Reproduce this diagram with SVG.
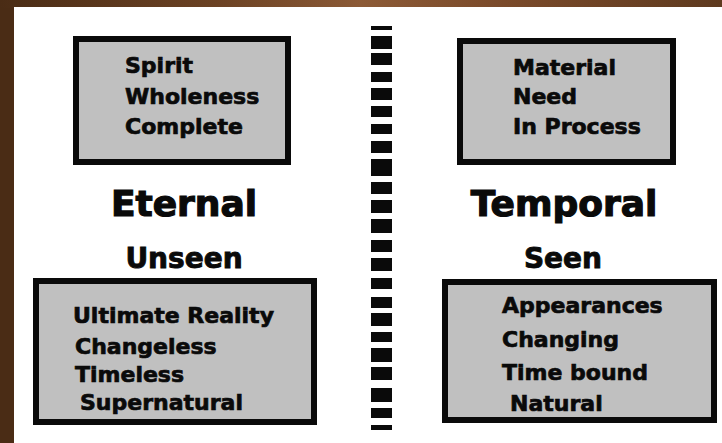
<svg xmlns="http://www.w3.org/2000/svg" width="722" height="443" viewBox="0 0 722 443">
<style>
.box{fill:#c0c0c0;stroke:#0a0a0a;stroke-width:6}
.t{font-family:"DejaVu Sans",Verdana,sans-serif;font-weight:bold;fill:#0a0a0a;stroke:#0a0a0a;stroke-width:0.7;font-size:22px}
.big{font-size:36px;stroke-width:1.2}
.mid{font-size:28px;stroke-width:0.9}
.dash rect{fill:#0a0a0a}
</style>
<defs>
<linearGradient id="wood" x1="0" y1="0" x2="1" y2="0">
<stop offset="0" stop-color="#4a2c15"/>
<stop offset="0.3" stop-color="#6b4224"/>
<stop offset="0.5" stop-color="#8c5a36"/>
<stop offset="0.7" stop-color="#7a4a2a"/>
<stop offset="1" stop-color="#5e3a1f"/>
</linearGradient>
</defs>
<rect x="0" y="0" width="722" height="443" fill="#4a2c15"/>
<rect x="0" y="0" width="722" height="8" fill="url(#wood)"/>
<rect x="14" y="7" width="708" height="436" fill="#ffffff"/>

<g id="separator" class="dash">
<rect x="371" y="26" width="21" height="4"/>
<rect x="371" y="36" width="21" height="13"/>
<rect x="371" y="53" width="21" height="12"/>
<rect x="371" y="72" width="21" height="10"/>
<rect x="371" y="88" width="21" height="12"/>
<rect x="371" y="106" width="21" height="11"/>
<rect x="371" y="124" width="21" height="10"/>
<rect x="371" y="141" width="21" height="12"/>
<rect x="371" y="159" width="21" height="17"/>
<rect x="371" y="182" width="21" height="12"/>
<rect x="371" y="200" width="21" height="13"/>
<rect x="371" y="219" width="21" height="14"/>
<rect x="371" y="240" width="21" height="12"/>
<rect x="371" y="258" width="21" height="13"/>
<rect x="371" y="278" width="21" height="11"/>
<rect x="371" y="297" width="21" height="11"/>
<rect x="371" y="313" width="21" height="13"/>
<rect x="371" y="332" width="21" height="10"/>
<rect x="371" y="348" width="21" height="14"/>
<rect x="371" y="367" width="21" height="13"/>
<rect x="371" y="388" width="21" height="14"/>
<rect x="371" y="408" width="21" height="10"/>
<rect x="371" y="425" width="21" height="5"/>
</g>

<g id="eternal-top">
<rect class="box" x="76" y="39" width="212" height="123"/>
<text class="t" x="125" y="73">Spirit</text>
<text class="t" x="125" y="104">Wholeness</text>
<text class="t" x="125" y="134">Complete</text>
</g>

<g id="temporal-top">
<rect class="box" x="460" y="41" width="213" height="121"/>
<text class="t" x="513" y="75">Material</text>
<text class="t" x="513" y="104">Need</text>
<text class="t" x="513" y="134">In Process</text>
</g>

<g id="eternal-label">
<text class="t big" x="184" y="216" text-anchor="middle">Eternal</text>
<text class="t mid" x="184" y="268" text-anchor="middle">Unseen</text>
</g>

<g id="temporal-label">
<text class="t big" x="564" y="216" text-anchor="middle">Temporal</text>
<text class="t mid" x="563" y="268" text-anchor="middle">Seen</text>
</g>

<g id="eternal-bottom">
<rect class="box" x="36" y="281" width="278" height="141"/>
<text class="t" x="73" y="323">Ultimate Reality</text>
<text class="t" x="75" y="354">Changeless</text>
<text class="t" x="75" y="382">Timeless</text>
<text class="t" x="80" y="410">Supernatural</text>
</g>

<g id="temporal-bottom">
<rect class="box" x="445" y="282" width="269" height="138"/>
<text class="t" x="502" y="313">Appearances</text>
<text class="t" x="502" y="347">Changing</text>
<text class="t" x="502" y="380">Time bound</text>
<text class="t" x="510" y="411">Natural</text>
</g>

<g id="connectors"></g>
</svg>
